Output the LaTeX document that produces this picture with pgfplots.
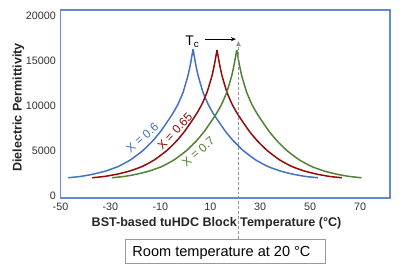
\documentclass[border=0pt]{standalone}
\usepackage{fontspec}
\setmainfont{Liberation Sans}
\usepackage{pgfplots}
\pgfplotsset{compat=1.18}
\usetikzlibrary{arrows.meta}
\definecolor{cblue}{RGB}{68,114,196}
\definecolor{cred}{RGB}{145,12,12}
\definecolor{cgreen}{RGB}{84,130,53}
\definecolor{frame}{RGB}{100,140,205}
\begin{document}
\begin{tikzpicture}
\begin{axis}[
  scale only axis, width=329.5bp, height=188bp,
  xmin=-50, xmax=82, ymin=-250, ymax=20650,
  axis line style={draw=frame, line width=1.2bp},
  xtick={-50,-30,-10,10,30,50,70}, xticklabels={-50,-30,-10,10,30,50,70},
  ytick={0,5000,10000,15000,20000}, yticklabels={0,5000,10000,15000,20000},
  scaled y ticks=false,
  major tick length=0pt, tick style={draw=none},
  tick label style={inner sep=0pt, font=\fontsize{10.8}{12}\selectfont, text=black!80},
  xticklabel shift=5bp, yticklabel shift=4.5bp,
  clip=false,
  every axis plot/.append style={line width=1.5bp, smooth, tension=0.3, no marks},
]
% x = 0.6
\addplot[cblue] coordinates {(-46.9,2000) (-41.9,2150) (-36.9,2400) (-31.9,2750) (-26.9,3250) (-21.9,4000) (-16.9,5050) (-12.9,6150) (-9.9,7150) (-6.9,8350) (-4.9,9200) (-2.9,10200) (-0.9,11500) (1.1,13400) (2.1,14700) (3.1,16300)};
\addplot[cblue] coordinates {(3.1,16300) (4.1,14700) (5.1,13400) (7.1,11500) (9.1,10200) (11.1,9200) (13.1,8350) (16.1,7150) (19.1,6150) (23.1,5050) (28.1,4000) (33.1,3250) (38.1,2750) (43.1,2400) (48.1,2150) (53.1,2000)};
% x = 0.65
\addplot[cred] coordinates {(-37.3,2000) (-32.3,2150) (-27.3,2400) (-22.3,2750) (-17.3,3250) (-12.3,4000) (-7.3,5050) (-3.3,6150) (-0.3,7150) (2.7,8350) (4.7,9200) (6.7,10200) (8.7,11500) (10.7,13350) (11.7,14650) (12.7,16200)};
\addplot[cred] coordinates {(12.7,16200) (13.7,14650) (14.7,13350) (16.7,11500) (18.7,10200) (20.7,9200) (22.7,8350) (25.7,7150) (28.7,6150) (32.7,5050) (37.7,4000) (42.7,3250) (47.7,2750) (52.7,2400) (57.7,2150) (62.7,2000)};
% x = 0.7
\addplot[cgreen] coordinates {(-29.4,2000) (-24.4,2150) (-19.4,2400) (-14.4,2750) (-9.4,3250) (-4.4,4000) (0.6,5050) (4.6,6150) (7.6,7150) (10.6,8350) (12.6,9200) (14.6,10200) (16.6,11500) (18.6,13350) (19.6,14650) (20.6,16200)};
\addplot[cgreen] coordinates {(20.6,16200) (21.6,14650) (22.6,13350) (24.6,11500) (26.6,10200) (28.6,9200) (30.6,8350) (33.6,7150) (36.6,6150) (40.6,5050) (45.6,4000) (50.6,3250) (55.6,2750) (60.6,2400) (65.6,2150) (70.6,2000)};

\node[rotate=41, text=cblue, font=\fontsize{12}{14}\selectfont] at (axis cs:-17.2,6467) {X = 0.6};
\node[rotate=47, text=cred, font=\fontsize{12}{14}\selectfont] at (axis cs:-4.2,7190) {X = 0.65};
\node[rotate=40, text=cgreen, font=\fontsize{12}{14}\selectfont] at (axis cs:5.2,4911) {X = 0.7};

\draw[gray!85, densely dashed, line width=1bp, -{Triangle[length=5bp,width=4.5bp]}] (axis cs:21.3,-4844) -- (axis cs:21.3,17190);
\draw[black, line width=0.8bp, -{Stealth[length=5bp,width=4bp]}] (axis cs:7.8,17410) -- (axis cs:20.3,17410);
\node[anchor=base, font=\fontsize{14}{16}\selectfont] at (axis cs:2.8,16740) {T\textsubscript{c}};

\coordinate (tl) at (rel axis cs:0,1);
\coordinate (bl) at (rel axis cs:0,0);
\end{axis}
\node[rotate=90, anchor=base, font=\bfseries\fontsize{12.6}{14}\selectfont, text=black!85] at ([shift={(-38.8bp,-97.4bp)}]tl) {Dielectric Permittivity};
\node[anchor=base, font=\bfseries\fontsize{12.6}{14}\selectfont, text=black!85] at ([shift={(156bp,-28.7bp)}]bl) {BST-based tuHDC Block Temperature (°C)};
\draw[draw=gray!80, line width=1bp, fill=white] ([shift={(64.5bp,-41.3bp)}]bl) rectangle ([shift={(264.5bp,-65.3bp)}]bl);
\node[anchor=base, font=\fontsize{14.6}{16}\selectfont] at ([shift={(161bp,-58bp)}]bl) {Room temperature at 20 °C};
\pgfresetboundingbox
\path ([shift={(-60.5bp,10bp)}]tl) rectangle ([shift={(339.5bp,-73bp)}]bl);
\end{tikzpicture}
\end{document}
